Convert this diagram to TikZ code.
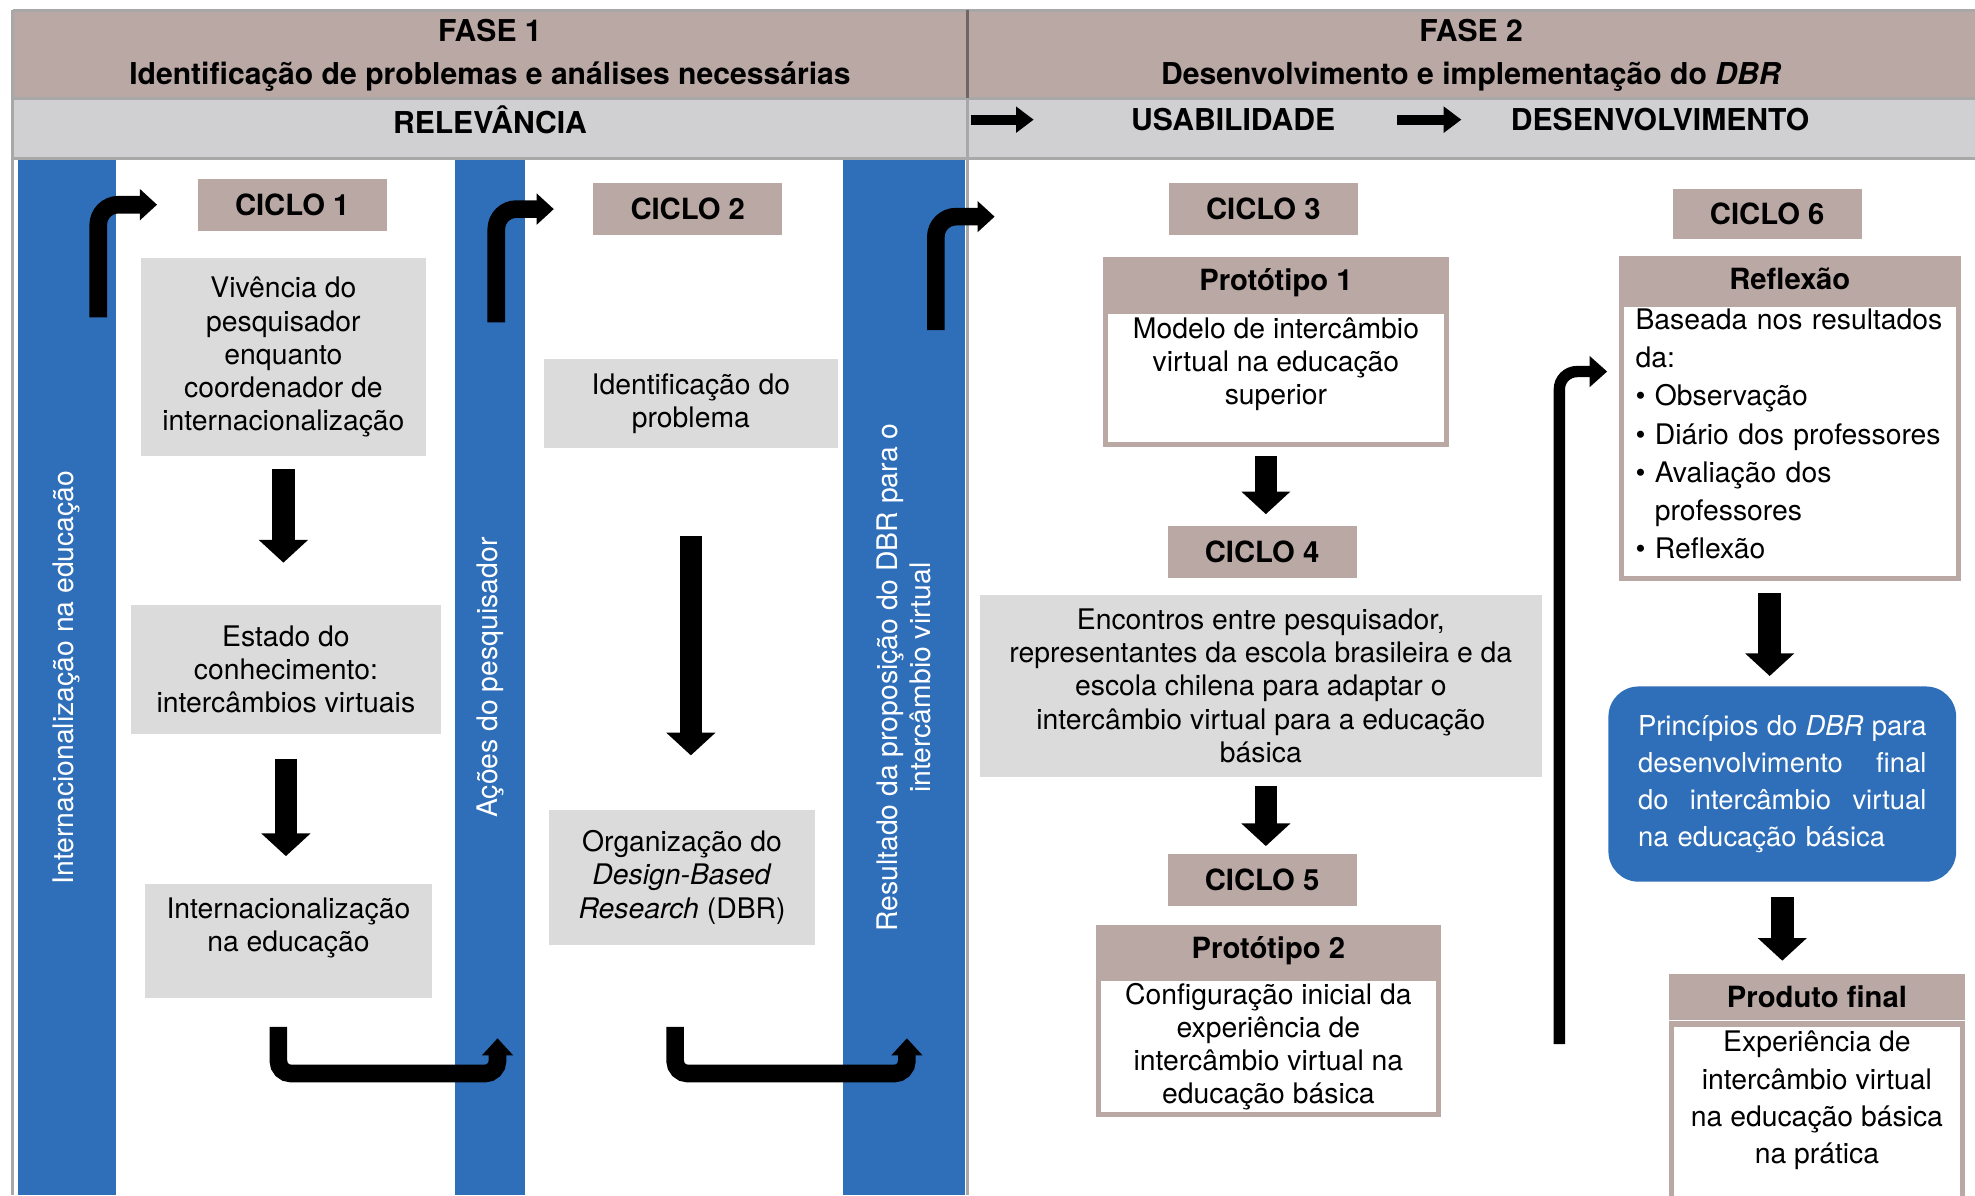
\documentclass[tikz,border=0pt]{standalone}
\usepackage{fontspec}
\setmainfont{TeX Gyre Heros}
\usepackage{tikz}
\usetikzlibrary{arrows.meta}
\usepackage{xcolor}
\definecolor{taupe}{HTML}{BAA8A5}
\definecolor{cinzacel}{HTML}{D0CFD1}
\definecolor{cinzacx}{HTML}{DBDBDB}
\definecolor{azul}{HTML}{2F6FBA}
\definecolor{borda}{HTML}{A8A8A8}

\begin{document}
\begin{tikzpicture}[x=0.025cm,y=-0.025cm,font=\fontsize{16}{18.7}\selectfont,
  cab/.style={inner sep=0pt,align=center,font=\fontsize{17}{24.2}\selectfont\bfseries},
  ciclo/.style={fill=taupe,inner sep=0pt,minimum width=3.75cm,minimum height=1.025cm,font=\fontsize{16.5}{19}\selectfont\bfseries},
  caixa/.style={fill=cinzacx,inner sep=0pt,align=center},
  barra/.style={fill=azul,text=white,rotate=90,inner sep=0pt,align=center,minimum width=20.55cm},
  topo/.style={fill=taupe,inner sep=0pt,font=\fontsize{16.5}{19}\selectfont\bfseries},
  corpo/.style={draw=taupe,line width=0.1cm,fill=white,inner sep=0pt,align=center},
  bloco/.style={-{Triangle[length=0.45cm,width=0.95cm]},line width=0.45cm},
  curva/.style={-{Triangle[length=0.34cm,width=0.6cm]},line width=0.35cm,rounded corners=0.4cm},
  longa/.style={-{Triangle[length=0.35cm,width=0.6cm]},line width=0.225cm,rounded corners=0.35cm},
  setinha/.style={-{Triangle[length=0.35cm,width=0.5cm]},line width=0.2cm}]
\useasboundingbox (0,0) rectangle (1568,949);
\clip (0,0) rectangle (1568,949);
% tabela
\fill[taupe] (10,8) rectangle (1568,78);
\fill[cinzacel] (10,78) rectangle (1568,126);
\draw[borda,line width=0.06cm] (10,8) -- (1568,8) (10,78) -- (1568,78) (10,126) -- (1568,126)
  (10,8) -- (10,949) (768,78) -- (768,949);
\draw[taupe!60!black,line width=0.05cm] (768,8) -- (768,78);
\node[cab] (fase1) at (389,44) {FASE 1\\Identificação de problemas e análises necessárias};
\node[cab] (fase2) at (1168,44) {FASE 2\\Desenvolvimento e implementação do \textit{DBR}};
\node[cab] (relev) at (389,95) {RELEVÂNCIA};
\node[cab] (usab) at (979,95) {USABILIDADE};
\node[cab] (desenv) at (1318,95) {DESENVOLVIMENTO};
\draw[setinha] ([xshift=-3.175cm]usab.west) -- ++(50,0);
\draw[setinha] ([xshift=-2.25cm]desenv.west) -- ++(51,0);
% fase 1
\node[barra,minimum height=1.95cm] (internac) at (53,538) {Internacionalização na educação};
\node[barra,minimum height=1.4cm] (acoes) at (389,538) {Ações do pesquisador};
\node[barra,minimum height=2.425cm] (result) at (717.5,538) {Resultado da proposição do DBR para o\\intercâmbio virtual};
\node[ciclo] (ciclo1) at (232,162.5) {CICLO 1};
\node[caixa,minimum width=5.65cm,minimum height=3.925cm] (viv) at (225,283.5)
  {Vivência do\\pesquisador\\enquanto\\coordenador de\\internacionalização};
\node[caixa,minimum width=6.15cm,minimum height=2.575cm] (est) at (227,531.5)
  {Estado do\\conhecimento:\\intercâmbios virtuais};
\node[caixa,minimum width=5.7cm,minimum height=2.25cm] (intl) at (229,747)
  {Internacionalização\\na educação\\\mbox{}};
\node[ciclo] (ciclo2) at (546,166) {CICLO 2};
\node[caixa,minimum width=5.825cm,minimum height=1.775cm] (ident) at (548.5,320.5)
  {Identificação do\\problema};
\node[caixa,minimum width=5.275cm,minimum height=2.675cm] (org) at (541.5,696.5)
  {Organização do\\\textit{Design-Based}\\\textit{Research} (DBR)};
\draw[bloco] ([yshift=-0.25cm]viv.south) -- ([yshift=0.825cm]viv.south |- est.north);
\draw[bloco] ([yshift=-0.475cm]est.south) -- ([yshift=0.55cm]est.south |- intl.north);
\draw[bloco] ([yshift=-1.725cm]ident.south) -- ([yshift=1.075cm]ident.south |- org.north);
\coordinate (p1) at (78,252);
\coordinate (p2) at (394,256);
\coordinate (p3) at (743,262);
\draw[curva] (p1) |- ([xshift=-0.8cm]ciclo1.west);
\draw[curva] (p2) |- ([xshift=-0.775cm]ciclo2.west);
\draw[curva,rounded corners=0.25cm] ([xshift=-0.2cm,yshift=-0.575cm]intl.south) -- ++(0,37) -- ++(174,0) -- ++(0,-28);
\draw[curva,rounded corners=0.25cm] ([xshift=-0.1375cm,yshift=-1.625cm]org.south) -- ++(0,37) -- ++(184,0) -- ++(0,-28);
% fase 2
\node[ciclo] (ciclo3) at (1003,166) {CICLO 3};
\draw[curva] (p3) |- ([xshift=-3.45cm,yshift=-0.15cm]ciclo3.west);
\node[topo,minimum width=6.85cm,minimum height=1.025cm] (proto1) at (1013,224.5) {Protótipo 1};
\node[corpo,minimum width=6.75cm,minimum height=2.65cm] (corpo1) at (1013,300)
  {Modelo de intercâmbio\\virtual na educação\\superior\\\mbox{}};
\node[ciclo] (ciclo4) at (1002,438) {CICLO 4};
\node[caixa,minimum width=11.15cm,minimum height=3.625cm] (enc) at (1001,544.5)
  {Encontros entre pesquisador,\\representantes da escola brasileira e da\\escola chilena para adaptar o\\intercâmbio virtual para a educação\\básica};
\node[ciclo] (ciclo5) at (1002,698.5) {CICLO 5};
\node[topo,minimum width=6.85cm,minimum height=1.025cm] (proto2) at (1007,754.5) {Protótipo 2};
\node[corpo,minimum width=6.75cm,minimum height=2.7cm] (corpo2) at (1007,831)
  {Configuração inicial da\\experiência de\\intercâmbio virtual na\\educação básica};
\draw[bloco] ([xshift=-0.2cm,yshift=-0.175cm]corpo1.south) -- ([xshift=-0.2cm,yshift=0.225cm]corpo1.south |- ciclo4.north);
\draw[bloco] ([xshift=0.1cm,yshift=-0.175cm]enc.south) -- ([xshift=0.1cm,yshift=0.15cm]enc.south |- ciclo5.north);
\node[ciclo,minimum height=1cm] (ciclo6) at (1403,170) {CICLO 6};
\node[topo,minimum width=6.8cm,minimum height=0.925cm] (refl) at (1421,221.5) {Reflexão};
\node[corpo,minimum width=6.7cm,minimum height=5.425cm,align=left,text width=6.125cm,
  font=\fontsize{16}{21.6}\selectfont] (reflcorpo) at (1421,350.5)
  {Baseada nos resultados\\da:\\\textbullet\ Observação\\\textbullet\ Diário dos professores\\
   \textbullet\ Avaliação dos\\\hphantom{\textbullet\ }professores\\\textbullet\ Reflexão\\[-13pt]\mbox{}};
\node[fill=azul,rounded corners=0.6cm,inner sep=0pt,minimum width=6.9cm,minimum height=3.875cm,
  text=white,text width=5.725cm,align=left,font=\fontsize{15.5}{21}\selectfont] (princ) at (1415,622.5)
  {Princípios\hfill do\hfill \textit{DBR}\hfill para\\desenvolvimento\hfill final\\
   do\hfill intercâmbio\hfill virtual\\na educação básica};
\node[topo,minimum width=5.875cm,minimum height=0.925cm] (prod) at (1442.5,791.5) {Produto final};
\node[corpo,minimum width=5.775cm,minimum height=3.65cm,font=\fontsize{16}{21}\selectfont] (prodcorpo) at (1442.5,886)
  {Experiência de\\intercâmbio virtual\\na educação básica\\na prática\\\mbox{}};
\draw[bloco] ([xshift=-0.4cm,yshift=-0.25cm]reflcorpo.south) -- ([xshift=-0.4cm,yshift=0.2cm]reflcorpo.south |- princ.north);
\draw[bloco] ([yshift=-0.3cm]princ.south) -- ([yshift=0.25cm]princ.south |- prod.north);
\coordinate (p7) at (1238,829);
\draw[longa] (p7) |- ([xshift=-0.225cm,yshift=1.3875cm]reflcorpo.west);
\end{tikzpicture}
\end{document}
